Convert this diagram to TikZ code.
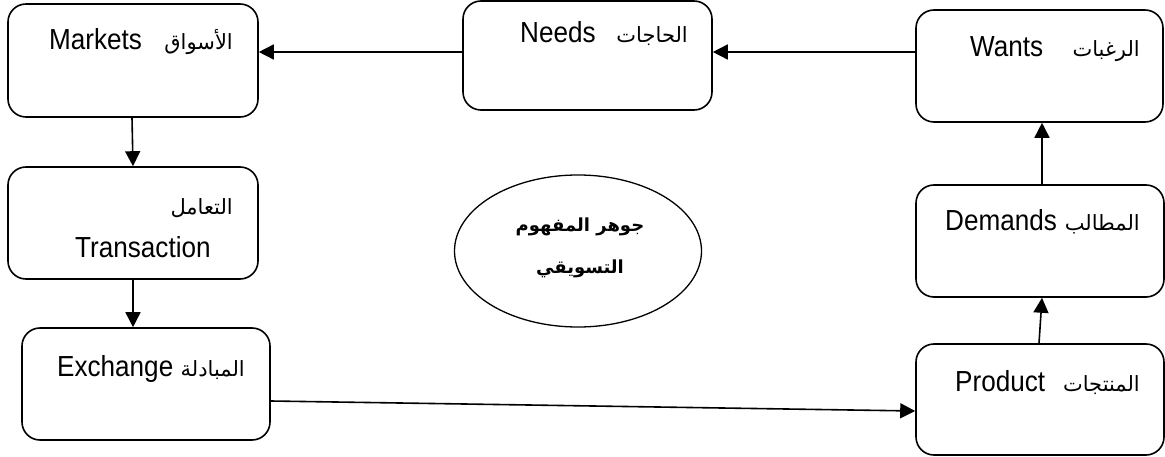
\documentclass[tikz,border=0pt]{standalone}
\usepackage{fontspec}
\setmainfont{Liberation Sans}[FakeStretch=0.9]
\newfontfamily\arfont[Script=Arabic]{DejaVu Sans}
\TeXXeTstate=1
\usetikzlibrary{arrows.meta,shapes.geometric}

\begin{document}
\begin{tikzpicture}[x=1pt,y=-1pt,
  box/.style={draw, line width=1.6pt, rounded corners=18pt, inner sep=0pt},
  en/.style={inner sep=0pt, anchor=base west, font=\fontsize{29}{33}\selectfont},
  ar/.style={inner sep=0pt, anchor=base east, font=\fontsize{21}{25}\arfont},
  core/.style={inner sep=0pt, anchor=base, font=\fontsize{18}{22}\arfont\bfseries},
  arr/.style={line width=1.6pt, -{Triangle[length=15pt,width=15pt]}}]
\useasboundingbox (0,0) rectangle (1165,457);

% the seven concepts
\node[box, minimum width=250pt, minimum height=113pt] (markets) at (133,60.5) {};
\node[box, minimum width=249pt, minimum height=109pt] (needs) at (587.5,55.5) {};
\node[box, minimum width=247pt, minimum height=112pt] (wants) at (1039.5,66) {};
\node[box, minimum width=250pt, minimum height=112pt] (transaction) at (133,223) {};
\node[box, minimum width=248pt, minimum height=112pt] (exchange) at (146,384) {};
\node[box, minimum width=248pt, minimum height=112pt] (demands) at (1040,241) {};
\node[box, minimum width=248pt, minimum height=111pt] (product) at (1040,399.5) {};

% labels
\node[en] (markets-en) at (49,50) {Markets};
\node[ar] (markets-ar) at (233,50) {\beginR الأسواق\endR};
\node[en] (needs-en) at (520,43) {Needs};
\node[ar] (needs-ar) at (688,43) {\beginR الحاجات\endR};
\node[en] (wants-en) at (970,57) {Wants};
\node[ar] (wants-ar) at (1140,57) {\beginR الرغبات\endR};
\node[ar] (transaction-ar) at (233,215) {\beginR التعامل\endR};
\node[en] (transaction-en) at (75,258) {Transaction};
\node[en] (exchange-en) at (57,376) {Exchange};
\node[ar] (exchange-ar) at (245,376) {\beginR المبادلة\endR};
\node[en] (demands-en) at (945,231) {Demands};
\node[ar] (demands-ar) at (1140,231) {\beginR المطالب\endR};
\node[en] (product-en) at (955,391) {Product};
\node[ar] (product-ar) at (1140,391) {\beginR المنتجات\endR};

% centre
\node[draw, ellipse, line width=1.3pt, minimum width=247pt, minimum height=152pt] (centre) at (578,251) {};
\node[core] (centre-1) at (580,232) {\beginR جوهر المفهوم\endR};
\node[core] (centre-2) at (580,273) {\beginR التسويقي\endR};

% flow
\draw[arr] ([yshift=14pt]wants.west) -- ([yshift=14pt]wants.west -| needs.east);
\draw[arr] ([yshift=3.5pt]needs.west) -- ([yshift=3.5pt]needs.west -| markets.east);
\draw[arr] ([xshift=-1pt]markets.south) -- (transaction.north);
\draw[arr] (transaction.south) -- (transaction.south |- exchange.north);
\draw[arr] ([yshift=-17pt]exchange.east) -- ([yshift=-11.5pt]product.west);
\draw[arr] ([xshift=-1pt]product.north) -- ([xshift=2pt]demands.south);
\draw[arr] ([xshift=2pt]demands.north) -- ([xshift=2pt]demands.north |- wants.south);
\end{tikzpicture}
\end{document}
